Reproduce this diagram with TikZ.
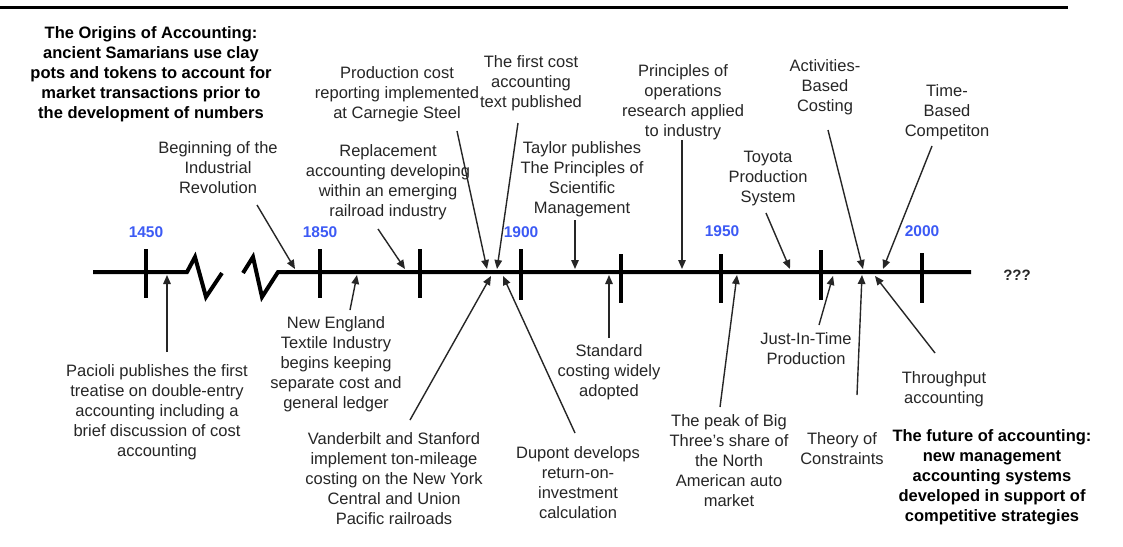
\documentclass[tikz,border=0pt]{standalone}
\usepackage{fontspec}
\setmainfont{Liberation Sans}
\usetikzlibrary{arrows.meta}
\definecolor{ink}{RGB}{38,38,38}
\definecolor{yearblue}{RGB}{60,90,245}
\begin{document}
\begin{tikzpicture}[x=1pt,y=-1pt,
  lbl/.style={anchor=north,inner sep=0pt,align=center,text=ink,
    font=\fontsize{16.5}{20}\selectfont},
  boldlbl/.style={lbl,text=black,font=\fontsize{16.5}{20}\selectfont\bfseries},
  yearlbl/.style={inner sep=0pt,text=yearblue,font=\fontsize{15.5}{18}\selectfont\bfseries},
  axisline/.style={line width=4pt,line join=miter,line cap=butt},
  tickmark/.style={line width=4pt},
  pointer/.style={line width=1.4pt,draw=ink,-{Triangle[length=9pt,width=7.5pt]}}]

\useasboundingbox (0,0) rectangle (1123,546);
\fill[white] (0,0) rectangle (1123,546);

% rule across the top
\draw[line width=2.5pt] (0,7.3) -- (1068,7.3);

% the time axis with its break
\draw[axisline] (93,272) -- (187,272) -- (195,257) -- (206,297) -- (222,273);
\draw[axisline] (243,273) -- (253,257) -- (262,297) -- (278,272) -- (971,272);

% tick marks
\foreach \x/\a/\b in {146/249/298, 320/249/298, 420/249/298, 521/249/300,
                      621/254/303, 721/254/303, 821/250/300, 922/253/303}
  \draw[tickmark] (\x,\a) -- (\x,\b);

% years
\node[yearlbl] (y1450) at (146,232) {1450};
\node[yearlbl] (y1850) at (320,232) {1850};
\node[yearlbl] (y1900) at (521,232) {1900};
\node[yearlbl] (y1950) at (722,231) {1950};
\node[yearlbl] (y2000) at (922,231) {2000};
\node[inner sep=0pt,text=ink,font=\fontsize{15}{18}\selectfont\bfseries] (qq) at (1017,275) {???};

% events above the axis
\node[boldlbl] (origins) at (151,26) {The Origins of Accounting:\\ancient Samarians use clay\\pots and tokens to account for\\market transactions prior to\\the development of numbers};
\node[lbl] (industrial) at (218,141) {Beginning of the\\Industrial\\Revolution};
\node[lbl] (carnegie) at (397,66) {Production cost\\reporting implemented\\at Carnegie Steel};
\node[lbl] (firsttext) at (531,55) {The first cost\\accounting\\text published};
\node[lbl] (replacement) at (388,144) {Replacement\\accounting developing\\within an emerging\\railroad industry};
\node[lbl] (taylor) at (582,141) {Taylor publishes\\The Principles of\\Scientific\\Management};
\node[lbl] (opsresearch) at (683,64) {Principles of\\operations\\research applied\\to industry};
\node[lbl] (toyota) at (768,151) {Toyota\\Production\\System};
\node[lbl] (abc) at (825,59) {Activities-\\Based\\Costing};
\node[lbl] (timebased) at (947,84) {Time-\\Based\\Competiton};

% events below the axis
\node[lbl] (pacioli) at (157,364) {Pacioli publishes the first\\treatise on double-entry\\accounting including a\\brief discussion of cost\\accounting};
\node[lbl] (textile) at (336,316) {New England\\Textile Industry\\begins keeping\\separate cost and\\general ledger};
\node[lbl] (vanderbilt) at (394,432) {Vanderbilt and Stanford\\implement ton-mileage\\costing on the New York\\Central and Union\\Pacific railroads};
\node[lbl] (dupont) at (578,446) {Dupont develops\\return-on-\\investment\\calculation};
\node[lbl] (standard) at (609,344) {Standard\\costing widely\\adopted};
\node[lbl] (bigthree) at (729,414) {The peak of Big\\Three’s share of\\the North\\American auto\\market};
\node[lbl] (jit) at (806,332) {Just-In-Time\\Production};
\node[lbl] (toc) at (842,432) {Theory of\\Constraints};
\node[lbl] (throughput) at (944,371) {Throughput\\accounting};
\node[boldlbl] (future) at (992,429) {The future of accounting:\\new management\\accounting systems\\developed in support of\\competitive strategies};

% pointer tails and tips
\coordinate (t-industrial) at (257,205);  \coordinate (h-industrial) at (295,269);
\coordinate (t-replacement) at (378,229); \coordinate (h-replacement) at (405,269);
\coordinate (t-carnegie) at (457,131);    \coordinate (h-carnegie) at (487,269);
\coordinate (t-firsttext) at (518,123);   \coordinate (h-firsttext) at (497,269);
\coordinate (t-taylor) at (575,220);      \coordinate (h-taylor) at (575,269);
\coordinate (t-opsresearch) at (682,140); \coordinate (h-opsresearch) at (682,269);
\coordinate (t-toyota) at (766,213);      \coordinate (h-toyota) at (790,269);
\coordinate (t-abc) at (828,130);         \coordinate (h-abc) at (863,269);
\coordinate (t-timebased) at (932,146);   \coordinate (h-timebased) at (883,269);

\coordinate (t-pacioli) at (167,352);     \coordinate (h-pacioli) at (167,275);
\coordinate (t-textile) at (350,310);     \coordinate (h-textile) at (357,275);
\coordinate (t-vanderbilt) at (410,420);  \coordinate (h-vanderbilt) at (491,276);
\coordinate (t-dupont) at (575,433);      \coordinate (h-dupont) at (503,276);
\coordinate (t-standard) at (609,338);    \coordinate (h-standard) at (609,275);
\coordinate (t-bigthree) at (720,407);    \coordinate (h-bigthree) at (737,275);
\coordinate (t-jit) at (819,325);         \coordinate (h-jit) at (833,276);
\coordinate (t-toc) at (857,395);         \coordinate (h-toc) at (862,275);
\coordinate (t-throughput) at (935,353);  \coordinate (h-throughput) at (875,276);

\foreach \e in {industrial,replacement,carnegie,firsttext,taylor,opsresearch,toyota,abc,timebased,
                pacioli,textile,vanderbilt,dupont,standard,bigthree,jit,toc,throughput}
  \draw[pointer] (t-\e) -- (h-\e);
\end{tikzpicture}
\end{document}
